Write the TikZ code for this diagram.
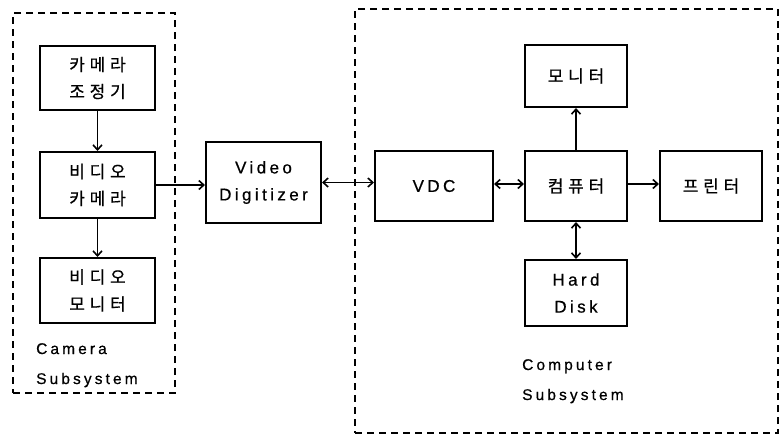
\documentclass[tikz,border=0pt]{standalone}
\usepackage{fontspec}
\setmainfont[LetterSpace=20,FakeBold=0.6]{Liberation Sans}
\newfontfamily\kr[LetterSpace=28,FakeBold=0.6]{Noto Sans CJK KR}
\usetikzlibrary{arrows.meta}
\begin{document}
\begin{tikzpicture}[x=1pt,y=-1pt,
  blk/.style={draw,line width=2pt,align=center,inner sep=0pt,font=\fontsize{17}{27}\selectfont},
  sys/.style={draw,line width=2pt,dash pattern=on 7pt off 5pt,inner sep=0pt},
  lbl/.style={align=left,anchor=north west,inner sep=0pt,font=\fontsize{15.5}{30}\selectfont},
  arr/.style={line width=1.6pt,-{Straight Barb[length=5pt,width=9pt]}},
  darr/.style={line width=1.6pt,{Straight Barb[length=5pt,width=9pt]}-{Straight Barb[length=5pt,width=9pt]}}]
\useasboundingbox (0,0) rectangle (781,442);
\node[sys,minimum width=162pt,minimum height=380pt] (camsys) at (94,203) {};
\node[sys,minimum width=423pt,minimum height=424pt] (compsys) at (566.5,221) {};
\node[blk,minimum width=115pt,minimum height=64pt] (ctrl) at (97.5,78) {\kr 카메라\\\kr 조정기};
\node[blk,minimum width=115pt,minimum height=66pt] (vcam) at (97.5,185) {\kr 비디오\\\kr 카메라};
\node[blk,minimum width=115pt,minimum height=65pt] (vmon) at (97.5,290.5) {\kr 비디오\\\kr 모니터};
\node[blk,minimum width=115pt,minimum height=81pt] (dig) at (263.5,182.5) {Video\\Digitizer};
\node[blk,minimum width=118pt,minimum height=70pt] (vdc) at (434,186) {VDC};
\node[blk,minimum width=102pt,minimum height=70pt] (comp) at (576,186) {\kr 컴퓨터};
\node[blk,minimum width=102pt,minimum height=70pt] (prn) at (711,186) {\kr 프린터};
\node[blk,minimum width=102pt,minimum height=62pt] (mon) at (576,76) {\kr 모니터};
\node[blk,minimum width=102pt,minimum height=66pt] (hd) at (576,293) {Hard\\Disk};
\node[lbl] (camlbl) at (36,343) {Camera\\Subsystem};
\node[lbl] (complbl) at (522,359) {Computer\\Subsystem};
\draw[arr] (ctrl) -- (vcam);
\draw[arr] (vcam) -- (vmon);
\draw[arr] (vcam.east) -- (dig.west |- vcam.east);
\draw[darr] (dig.east) -- (vdc.west |- dig.east);
\draw[darr] (vdc.east |- 0,184) -- (comp.west |- 0,184);
\draw[arr] (comp.east |- 0,184) -- (prn.west |- 0,184);
\draw[arr] (comp.north) -- (mon.south);
\draw[darr] (comp.south) -- (hd.north);
\end{tikzpicture}
\end{document}
